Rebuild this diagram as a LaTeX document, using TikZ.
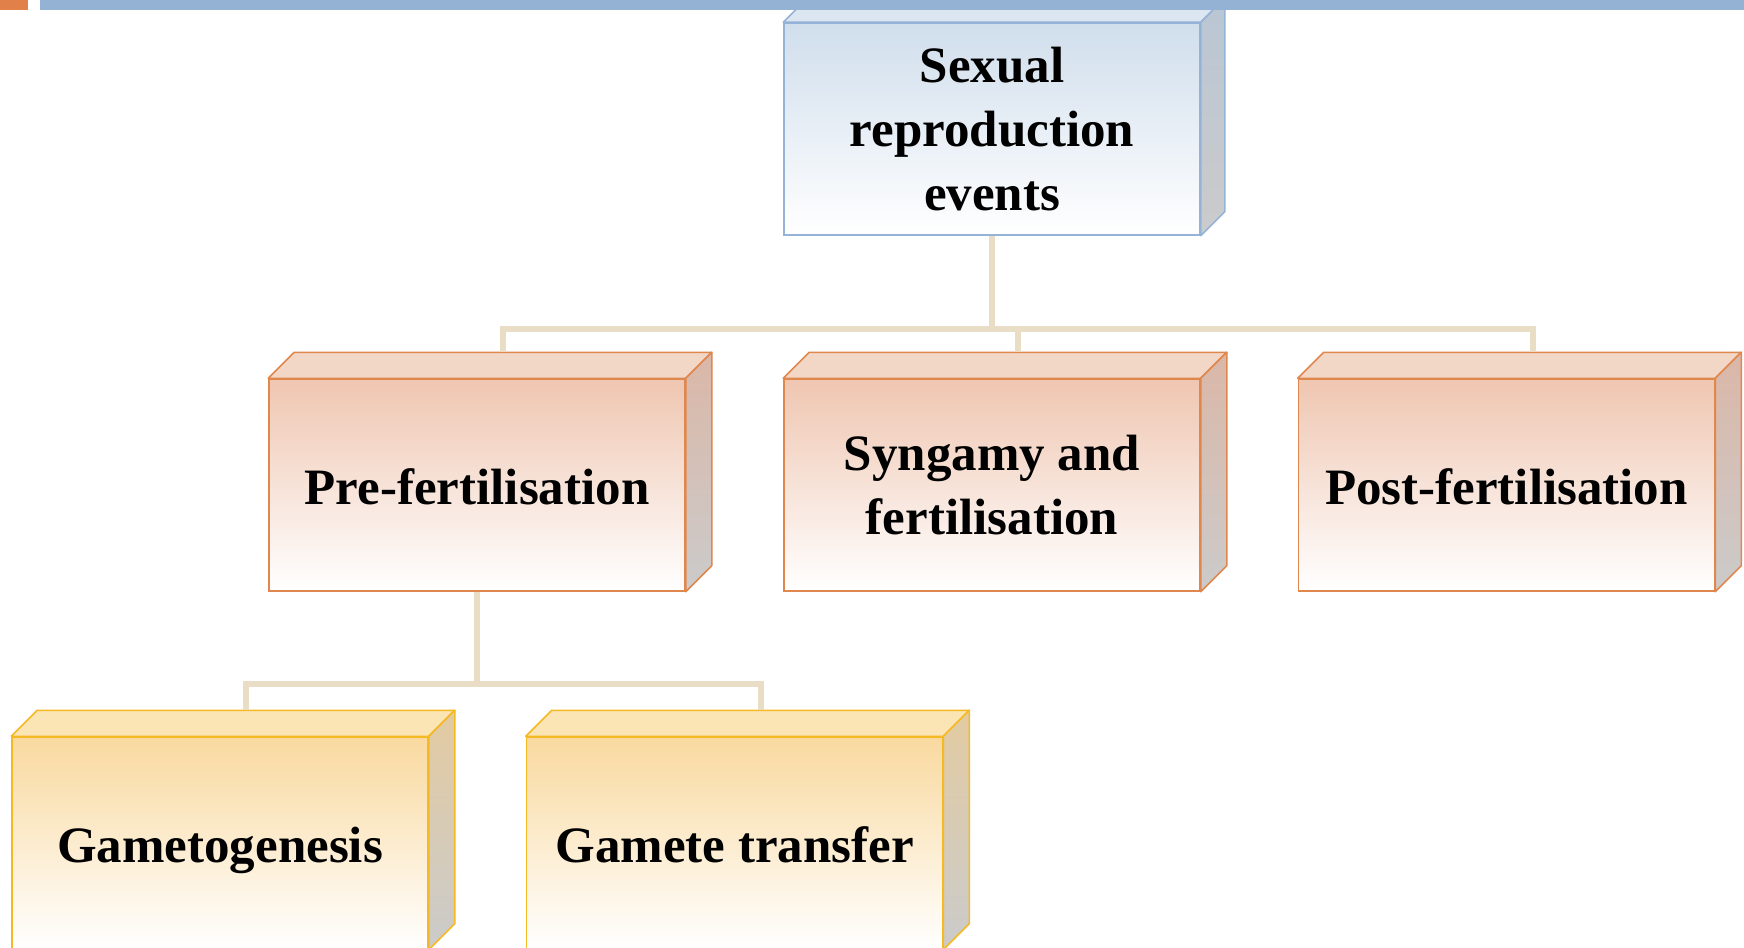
\documentclass[tikz,border=0pt]{standalone}
\usepackage{fontspec}
\setmainfont{Liberation Serif}
\begin{document}
\begin{tikzpicture}[x=1pt,y=-1pt]
\definecolor{bdrblue}{HTML}{95B3D7}
\definecolor{fblue}{HTML}{D0DEEC}
\definecolor{tblue}{HTML}{DCE6F1}
\definecolor{sblue}{HTML}{B9C6D4}
\definecolor{bdrorange}{HTML}{E0874E}
\definecolor{forange}{HTML}{EFC6B1}
\definecolor{torange}{HTML}{F2D6C6}
\definecolor{sorange}{HTML}{DBB7A7}
\definecolor{bdryellow}{HTML}{F5B923}
\definecolor{fyellow}{HTML}{F9D99F}
\definecolor{tyellow}{HTML}{FCE5B4}
\definecolor{syellow}{HTML}{E3CBA1}
\definecolor{sgray}{HTML}{CBCBCB}
\definecolor{connc}{HTML}{EADDC6}
\definecolor{barorange}{HTML}{E2804A}
\definecolor{barblue}{HTML}{94B3D4}
\tikzset{
  boxbase/.style={rectangle, minimum width=416pt, minimum height=212pt, inner sep=0pt,
    align=center, line width=1.5pt, font=\fontsize{51}{64}\selectfont\bfseries},
  oneline/.style={text height=42pt, text depth=4pt},
  bluebox/.style={boxbase, draw=bdrblue, top color=fblue, bottom color=white},
  orangebox/.style={boxbase, draw=bdrorange, top color=forange, bottom color=white},
  yellowbox/.style={boxbase, draw=bdryellow, top color=fyellow, bottom color=white},
  conn/.style={draw=connc, line width=6pt},
  facebase/.style={line width=1.5pt, line join=round},
}
\newcommand{\cubefaces}[5]{%
  % #1 node, #2 depth, #3 border, #4 top face, #5 side colour
  \path[facebase, draw=#3, fill=#4] (#1.north west) -- ++(#2,-#2) -- ([shift={(#2,-#2)}]#1.north east) -- (#1.north east) -- cycle;
  \path[facebase, draw=#3, top color=#5, bottom color=sgray] (#1.north east) -- ++(#2,-#2) -- ([shift={(#2,-#2)}]#1.south east) -- (#1.south east) -- cycle;
}
\useasboundingbox (0,0) rectangle (1744,947);
\clip (0,0) rectangle (1744,947);
\fill[white] (0,0) rectangle (1744,947);

% nodes
\node[bluebox] (top) at (992,129) {Sexual\\reproduction\\events};
\node[orangebox, oneline] (pre) at (477,485) {Pre-fertilisation};
\node[orangebox] (syn) at (992,485) {Syngamy and\\fertilisation};
\node[orangebox, oneline] (post) at (1506.5,485) {Post-fertilisation};
\node[yellowbox, oneline] (game) at (220,843) {Gametogenesis};
\node[yellowbox, oneline] (gtr) at (734.5,843) {Gamete transfer};

\cubefaces{top}{24}{bdrblue}{tblue}{sblue}
\cubefaces{pre}{26}{bdrorange}{torange}{sorange}
\cubefaces{syn}{26}{bdrorange}{torange}{sorange}
\cubefaces{post}{26}{bdrorange}{torange}{sorange}
\cubefaces{game}{26}{bdryellow}{tyellow}{syellow}
\cubefaces{gtr}{26}{bdryellow}{tyellow}{syellow}

% connector points
\coordinate (preT) at ([shift={(26,-26)}]pre.north);
\coordinate (synT) at ([shift={(26,-26)}]syn.north);
\coordinate (postT) at ([shift={(26,-26)}]post.north);
\coordinate (gameT) at ([shift={(26,-26)}]game.north);
\coordinate (gtrT) at ([shift={(26,-26)}]gtr.north);
\coordinate (j1) at (992,329);
\coordinate (j2) at (477,684);

\draw[conn] (top.south) -- (j1);
\draw[conn] (preT) -- (preT |- j1) -- (postT |- j1) -- (postT);
\draw[conn] (synT) -- (synT |- j1);
\draw[conn] (pre.south) -- (j2);
\draw[conn] (gameT) -- (gameT |- j2) -- (gtrT |- j2) -- (gtrT);

% top bars
\fill[barorange] (0,0) rectangle (28,10);
\fill[barblue] (40,0) rectangle (1744,10);
\end{tikzpicture}
\end{document}
